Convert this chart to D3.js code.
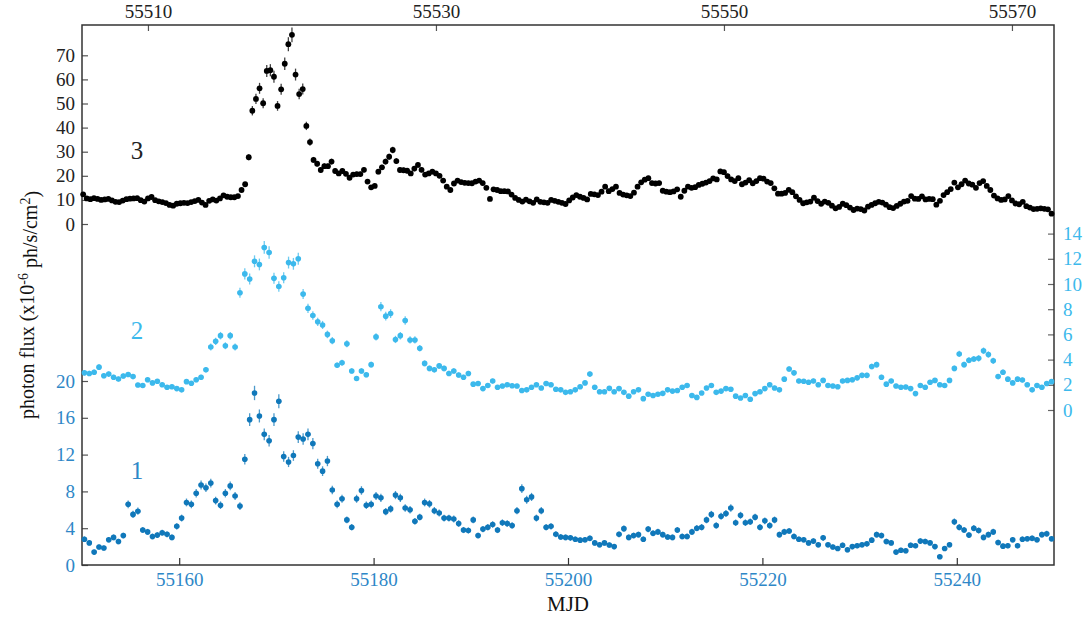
<!DOCTYPE html>
<html><head><meta charset="utf-8">
<script src="https://cdn.jsdelivr.net/npm/d3@7"></script>
<style>body{margin:0;background:#fff} svg{display:block} text{font-family:"Liberation Serif","Times New Roman",serif}</style>
</head><body><svg id="c" width="1092" height="618"></svg>
<script>
// ---------- data ----------
const bottomTicks = [55160, 55180, 55200, 55220, 55240];
const topTicks = [55510, 55530, 55550, 55570];
const ticks3 = [0, 10, 20, 30, 40, 50, 60, 70];
const ticks1 = [0, 4, 8, 12, 16, 20];
const ticks2 = [0, 2, 4, 6, 8, 10, 12, 14];
const seriesNames = ["1", "2", "3"];
const t12Start = 55150.25, t12Step = 0.5;   // bin centres, series 1 & 2 (bottom MJD axis)
const t3Start = 55505.5, t3Step = 0.25;     // bin centres, series 3 (top MJD axis)

const flux1 = [
2.8,2.4,1.4,1.95,1.85,2.75,3.0,2.55,3.2,6.6,5.5,5.85,3.8,3.6,3.1,3.25,3.5,3.33,3.0,4.2,
5.1,6.8,6.6,7.8,8.7,8.4,8.9,7.0,6.5,7.8,8.6,7.5,6.4,11.5,15.8,18.7,16.2,14.2,13.5,15.8,
17.8,11.8,11.2,11.9,13.9,13.7,14.2,13.2,11.0,10.2,11.3,8.15,6.6,7.2,4.9,4.1,7.2,8.1,6.5,6.6,
7.5,7.3,5.8,6.1,7.6,7.3,6.2,6.0,4.75,5.2,6.8,6.65,5.9,5.65,5.1,5.1,5.0,4.5,3.8,3.75,
4.9,3.2,3.9,4.1,4.4,3.8,4.6,4.5,4.3,5.9,8.3,7.1,7.4,5.1,5.9,4.1,4.2,3.35,3.05,3.0,
2.95,2.8,2.7,2.75,2.9,2.4,2.2,2.4,2.17,2.0,3.33,3.95,3.0,3.2,3.3,2.8,3.9,3.45,3.6,3.3,
3.05,3.0,3.8,3.1,3.1,3.6,4.0,4.1,4.9,5.5,4.3,5.3,5.6,6.2,4.6,5.4,4.6,4.7,5.2,4.1,
4.8,4.3,4.9,3.3,3.6,3.7,3.1,2.8,2.75,2.4,2.6,2.2,2.95,2.2,1.95,1.8,2.15,1.65,2.0,2.1,
2.2,2.3,2.7,3.3,3.2,2.55,2.4,1.4,1.6,1.55,2.15,2.1,2.6,2.55,2.4,2.0,0.9,1.8,2.2,4.7,
4.1,3.8,3.25,4.0,3.75,3.0,3.3,3.6,2.45,2.05,2.1,2.75,2.1,2.8,2.85,2.9,2.75,3.3,3.4,2.85
];
const flux2 = [
2.95,2.9,3.0,3.4,2.72,2.85,2.6,2.46,2.7,2.82,2.65,1.98,1.95,2.4,2.15,2.28,2.0,1.8,1.85,1.7,
1.6,2.25,2.12,2.4,2.6,3.2,5.0,5.45,5.9,5.1,5.9,5.0,9.3,10.8,10.4,11.8,11.55,12.9,12.5,10.45,
9.8,10.5,11.7,11.6,12.0,9.2,8.07,7.5,7.0,6.75,6.0,5.5,3.55,3.75,5.25,3.1,2.5,3.1,2.8,3.6,
5.8,8.2,7.45,7.65,5.6,5.9,7.1,5.56,5.56,4.9,3.7,3.3,3.2,3.5,3.3,2.9,3.1,2.78,2.6,2.9,
2.05,2.1,1.7,1.95,2.3,1.8,1.9,2.0,1.93,1.9,1.55,1.6,1.8,2.0,1.75,2.1,2.0,1.65,1.6,1.4,
1.45,1.6,1.85,2.15,2.85,1.8,1.45,1.45,1.72,1.45,1.7,1.4,1.1,1.45,1.6,0.9,1.25,1.15,1.25,1.32,
1.6,1.5,1.55,1.8,1.95,1.15,1.0,1.35,1.75,1.95,1.4,1.5,1.7,1.65,1.1,0.95,1.15,0.85,1.3,1.45,
1.7,2.0,1.75,1.6,2.45,3.25,2.95,2.3,2.28,2.2,2.3,2.0,2.35,1.95,1.9,1.85,2.3,2.35,2.4,2.55,
2.75,2.75,3.45,3.6,2.6,2.05,2.3,1.9,1.8,1.82,1.7,1.3,1.95,1.8,2.2,2.35,2.0,1.95,2.35,3.3,
4.45,3.6,3.95,4.05,4.1,4.7,4.4,3.9,2.65,3.0,2.45,2.15,2.45,2.38,2.0,1.6,1.95,1.8,2.1,2.25
];
const flux3 = [
12.3,10.6,10.3,10.7,10.4,10.0,10.2,10.4,9.8,9.2,9.1,9.7,10.3,10.5,10.6,10.7,9.9,9.3,10.6,11.2,
9.9,9.4,9.1,8.7,7.9,7.6,8.4,8.6,8.8,8.7,9.1,9.5,10.0,8.9,7.9,9.6,10.2,9.7,10.6,11.9,
11.3,11.1,11.1,11.6,14.1,16.5,27.7,47,51.9,56.3,50.1,63.5,63.8,61.1,49.0,55.9,66.5,74.6,78.5,62,
53.9,56,40.7,34,26.6,25,22.4,24,24,25.9,22,21,22,20.8,19.2,20.5,20.7,20.7,22.5,17.6,
15.2,15.8,21.7,23.5,25.9,27.9,30.7,26.1,22.4,22.3,22.1,21,23,24.5,22.5,20.5,21,21.7,21,20,
18,15.5,14.1,16.8,18,17.4,17.1,17,16.9,17.6,18,17,15,10.4,14.4,14.1,13.6,13.6,13.5,12.2,
10.8,10,9.3,10.1,9.4,8.8,10.2,9.2,9,8.8,10,9.6,9.2,8.8,8.3,9.8,11,12,11.3,10.8,
10.2,12.5,12.3,12,13.4,15.5,13.6,14.5,15.5,12.9,12.2,11.9,11.6,13,15.5,17.3,18.4,19,17,16.8,
17,13.8,13.4,13.2,13.5,14.4,11.3,13.8,15.5,15,15.3,16.2,16.7,17.2,17.8,18.9,18.5,21.8,21.5,19.9,
18.5,17.8,19,16.5,17.2,18.2,16.9,17.8,19,18.8,17.6,17,14.8,12.6,12.6,12.9,14.2,13.2,11.5,10,
8.6,9,9.3,10.9,9.5,8.4,9.3,8.8,7.6,6.5,7.1,8.4,7.8,6.8,5.8,6.4,6.2,5.6,7.2,7.9,
8.6,9.2,8.9,8,7,6.6,7.5,8.4,9.3,9.6,11.6,10.5,10.4,11.5,10.2,10.4,10.3,8,9.6,12,
13.2,14.5,17.2,15.2,16.5,18,16.8,16.3,15,17,17.8,15.8,14.1,11.8,10.6,10,10.2,11.6,9.8,8.5,
8.2,9.2,7.4,6.8,6.2,6.3,6.5,6.3,6.1,4.3
];

// ---------- layout ----------
const L = 82, R = 1054, T = 25, B = 565;
const col1 = "#1078ba", col1txt = "#2e87c7", col2 = "#3cb9ec", col3 = "#000";
const svg = d3.select("#c");

const x = d3.scaleLinear().domain([55150, 55250]).range([L, R]);
const xTop = d3.scaleLinear().domain([55505.42, 55572.92]).range([L, R]);
const y3 = d3.scaleLinear().domain([0, 70]).range([224, 55.3]);
const y1 = d3.scaleLinear().domain([0, 20]).range([565, 381]);
const y2 = d3.scaleLinear().domain([0, 14]).range([410, 233.6]);

const s1 = flux1.map((v, i) => ({t: t12Start + i * t12Step, v}));
const s2 = flux2.map((v, i) => ({t: t12Start + i * t12Step, v}));
const s3 = flux3.map((v, i) => ({t: t3Start + i * t3Step, v}));

function styleAxis(g, color, tickColor) {
  g.select(".domain").remove();
  g.selectAll(".tick line").attr("stroke", tickColor).attr("stroke-width", 1.2);
  g.selectAll(".tick text").attr("fill", color).style("font-size", "19px")
    .style("font-family", '"Liberation Serif","Times New Roman",serif');
}

// axes
svg.append("g").attr("transform", `translate(0,${B})`)
  .call(d3.axisBottom(x).tickValues(bottomTicks).tickFormat(d3.format("d")).tickSize(-7).tickPadding(8))
  .call(g => styleAxis(g, col1txt, "#333"));
svg.append("g").attr("transform", `translate(0,${T})`)
  .call(d3.axisTop(xTop).tickValues(topTicks).tickFormat(d3.format("d")).tickSize(-6).tickPadding(7))
  .call(g => styleAxis(g, "#222", "#555"));
svg.append("g").attr("transform", `translate(${L},0)`)
  .call(d3.axisLeft(y3).tickValues(ticks3).tickSize(-6).tickPadding(7))
  .call(g => styleAxis(g, "#222", "#555"));
svg.append("g").attr("transform", `translate(${L},0)`)
  .call(d3.axisLeft(y1).tickValues(ticks1).tickSize(-6).tickPadding(7))
  .call(g => styleAxis(g, col1txt, "#555"));
svg.append("g").attr("transform", `translate(${R},0)`)
  .call(d3.axisRight(y2).tickValues(ticks2).tickSize(-6).tickPadding(9))
  .call(g => styleAxis(g, col2, "#666"));

// frame
svg.append("rect").attr("x", L).attr("y", T).attr("width", R - L).attr("height", B - T)
  .attr("fill", "none").attr("stroke", "#333").attr("stroke-width", 1.5);

// series drawing
function drawSeries(data, xs, ys, color, errBase, errFrac, halfBin, barW, r) {
  const g = svg.append("g");
  g.selectAll("line.ey").data(data).join("line")
    .attr("x1", d => xs(d.t)).attr("x2", d => xs(d.t))
    .attr("y1", d => ys(d.v + errBase + errFrac * d.v)).attr("y2", d => ys(d.v - errBase - errFrac * d.v))
    .attr("stroke", color).attr("stroke-opacity", 0.75).attr("stroke-width", 1.3);
  if (halfBin > 0) {
    g.selectAll("line.ex").data(data).join("line")
      .attr("x1", d => xs(d.t - halfBin)).attr("x2", d => xs(d.t + halfBin))
      .attr("y1", d => ys(d.v)).attr("y2", d => ys(d.v))
      .attr("stroke", color).attr("stroke-opacity", 0.85).attr("stroke-width", barW);
  }
  g.selectAll("circle").data(data).join("circle")
    .attr("cx", d => xs(d.t)).attr("cy", d => ys(d.v)).attr("r", r).attr("fill", color);
}
drawSeries(s2, x, y2, col2, 0.12, 0.03, 0.25, 2.2, 2.8);
drawSeries(s1, x, y1, col1, 0.22, 0.03, 0.25, 2.2, 2.8);
drawSeries(s3, xTop, y3, col3, 0.3, 0.035, 0.12, 2.0, 2.9);

// series labels
const labelPos = [[137, 470, col1txt], [137, 330, col2], [137, 150, "#222"]];
seriesNames.forEach((n, i) => {
  svg.append("text").attr("x", labelPos[i][0]).attr("y", labelPos[i][1]).attr("dy", "0.35em")
    .attr("text-anchor", "middle").attr("fill", labelPos[i][2]).style("font-size", "25px").text(n);
});

// axis titles
svg.append("text").attr("x", 568).attr("y", 611).attr("text-anchor", "middle")
  .attr("fill", "#111").style("font-size", "21px").text("MJD");
const yt = svg.append("text").attr("transform", "translate(34,305) rotate(-90)")
  .attr("text-anchor", "middle").attr("fill", "#111").style("font-size", "20px");
yt.append("tspan").text("photon flux (x10");
yt.append("tspan").attr("dy", "-0.45em").style("font-size", "14px").text("-6");
yt.append("tspan").attr("dy", "0.45em").text(" ph/s/cm");
yt.append("tspan").attr("dy", "-0.45em").style("font-size", "14px").text("2");
yt.append("tspan").attr("dy", "0.45em").text(")");
</script></body></html>
